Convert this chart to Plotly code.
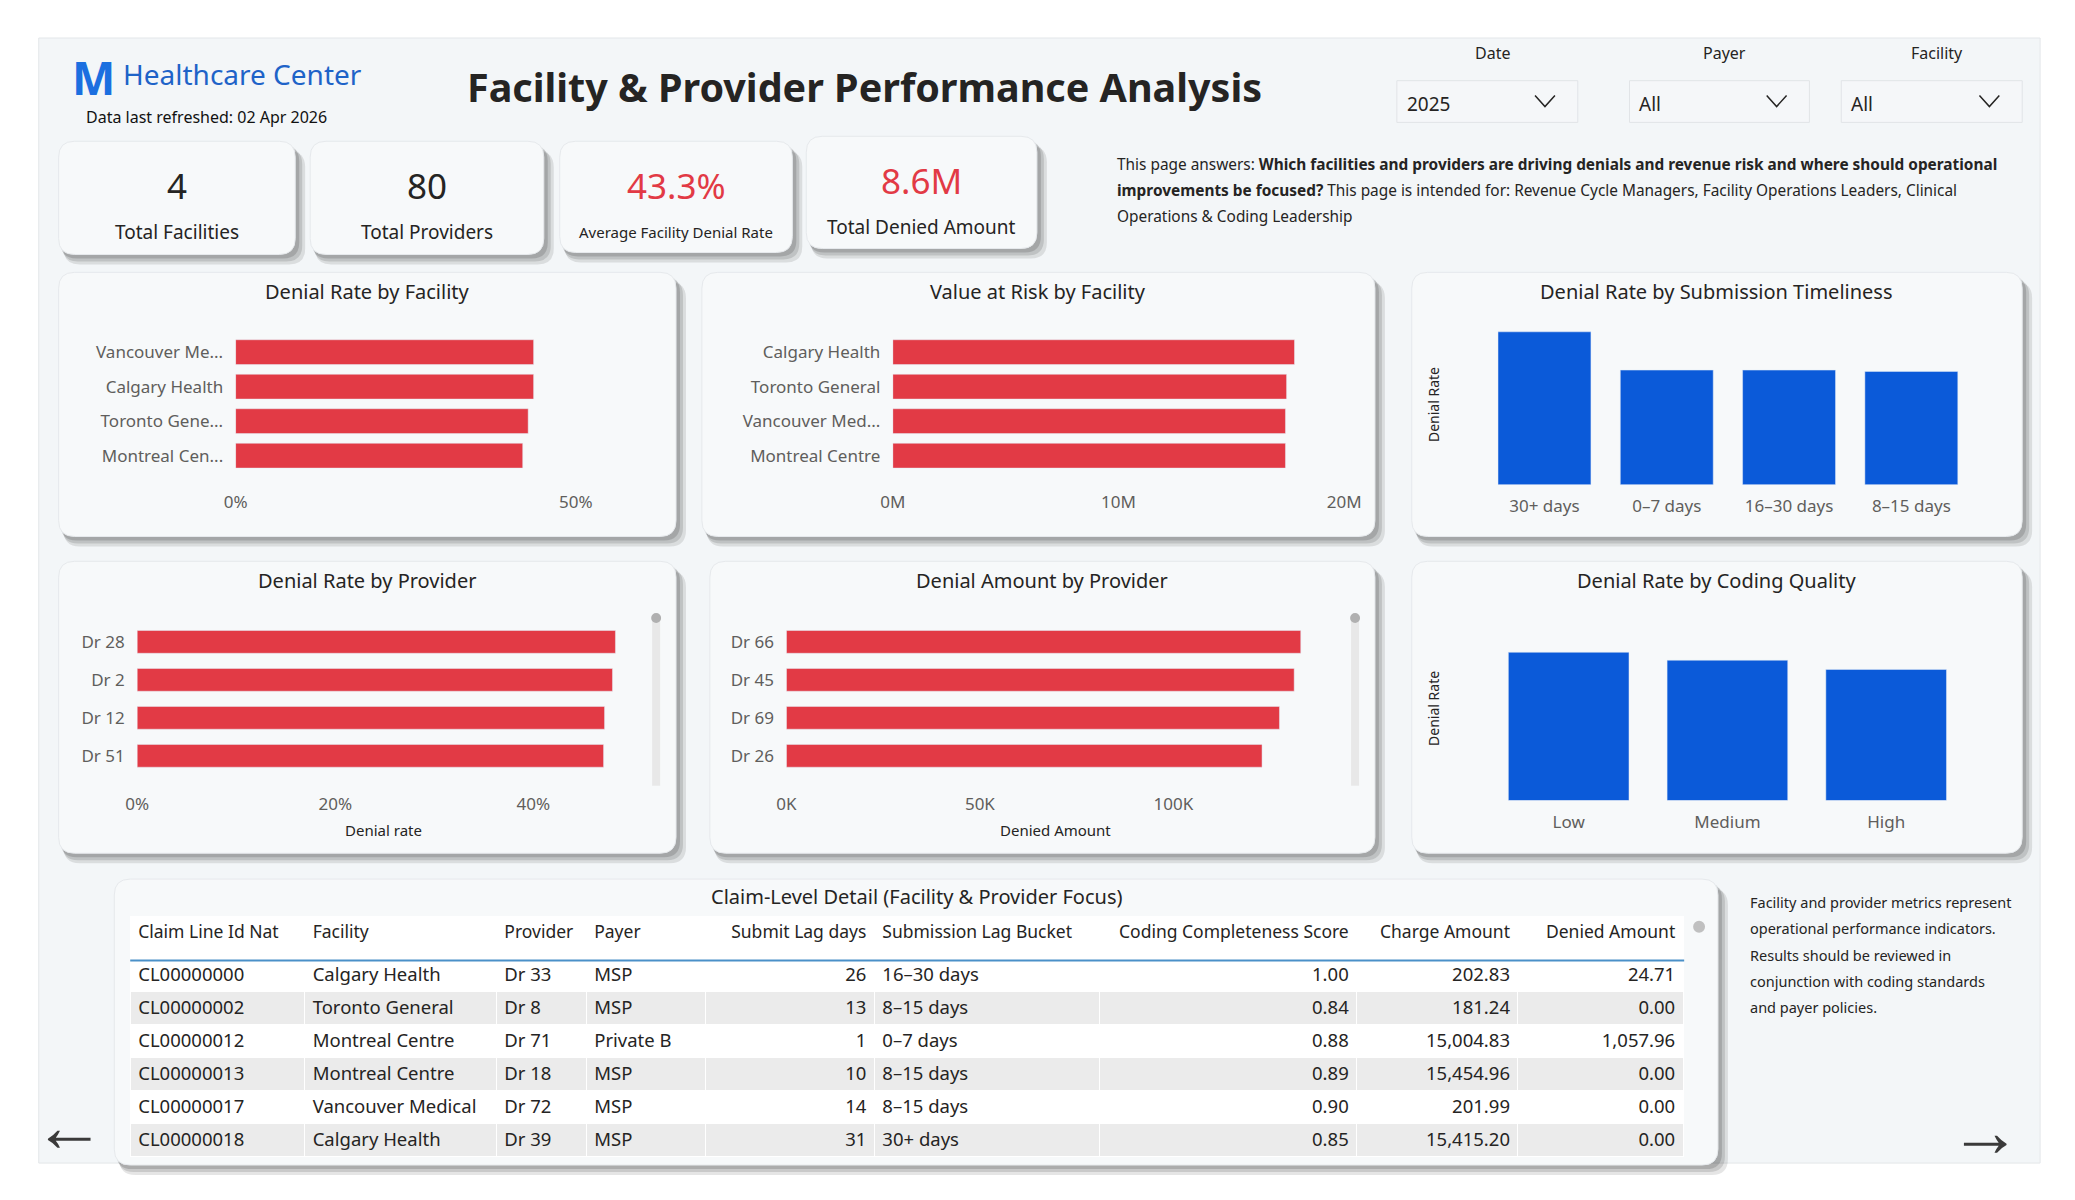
import plotly.graph_objects as go

W, H = 2075, 1200
OX, OY = -19, -7  # page offset compensation
SX, SY = 1.0088, 0.993
RED = "#e23a45"
BLUE = "#0b5ad9"
GREY = "#605e5c"
FONT = "Noto Sans"

# ---- data ----
fac_rate_names = ["Vancouver Me...", "Calgary Health", "Toronto Gene...", "Montreal Cen..."]
fac_rate_vals = [0.438, 0.438, 0.430, 0.422]

var_names = ["Calgary Health", "Toronto General", "Vancouver Med...", "Montreal Centre"]
var_vals = [17.8e6, 17.45e6, 17.4e6, 17.4e6]

lag_buckets = ["30+ days", "0–7 days", "16–30 days", "8–15 days"]
lag_rates = [0.560, 0.420, 0.420, 0.415]

prov_rate_names = ["Dr 28", "Dr 2", "Dr 12", "Dr 51"]
prov_rate_vals = [0.483, 0.480, 0.472, 0.471]

prov_amt_names = ["Dr 66", "Dr 45", "Dr 69", "Dr 26"]
prov_amt_vals = [132900, 131200, 127400, 122900]

coding_levels = ["Low", "Medium", "High"]
coding_rates = [0.450, 0.426, 0.398]

kpi_values = ["4", "80", "43.3%", "8.6M"]
kpi_labels = ["Total Facilities", "Total Providers", "Average Facility Denial Rate", "Total Denied Amount"]

tbl_headers = ["Claim Line Id Nat", "Facility", "Provider", "Payer", "Submit Lag days",
               "Submission Lag Bucket", "Coding Completeness Score", "Charge Amount", "Denied Amount"]
tbl_claim = ["CL00000000", "CL00000002", "CL00000012", "CL00000013", "CL00000017", "CL00000018"]
tbl_facility = ["Calgary Health", "Toronto General", "Montreal Centre", "Montreal Centre", "Vancouver Medical", "Calgary Health"]
tbl_provider = ["Dr 33", "Dr 8", "Dr 71", "Dr 18", "Dr 72", "Dr 39"]
tbl_payer = ["MSP", "MSP", "Private B", "MSP", "MSP", "MSP"]
tbl_lag = [26, 13, 1, 10, 14, 31]
tbl_bucket = ["16–30 days", "8–15 days", "0–7 days", "8–15 days", "8–15 days", "30+ days"]
tbl_score = ["1.00", "0.84", "0.88", "0.89", "0.90", "0.85"]
tbl_charge = ["202.83", "181.24", "15,004.83", "15,454.96", "201.99", "15,415.20"]
tbl_denied = ["24.71", "0.00", "1,057.96", "0.00", "0.00", "0.00"]


def X(v):
    return (37 + (v - 37) * SX + OX) / W


def Y(v):
    return 1 - (37 + (v - 37) * SY + OY) / H


def dx(a, b):
    return [X(a), X(b)]


def dy(top, bottom):
    return [Y(bottom), Y(top)]


def rrect(x0, y0, x1, y1, r=14):
    return (f"M {X(x0+r)},{Y(y0)} L {X(x1-r)},{Y(y0)} Q {X(x1)},{Y(y0)} {X(x1)},{Y(y0+r)} "
            f"L {X(x1)},{Y(y1-r)} Q {X(x1)},{Y(y1)} {X(x1-r)},{Y(y1)} L {X(x0+r)},{Y(y1)} "
            f"Q {X(x0)},{Y(y1)} {X(x0)},{Y(y1-r)} L {X(x0)},{Y(y0+r)} Q {X(x0)},{Y(y0)} {X(x0+r)},{Y(y0)} Z")


shapes = []
annotations = []


def card(x0, y0, x1, y1, r=14):
    for k, op in [(10, 0.10), (7, 0.12), (4, 0.14)]:
        shapes.append(dict(type="path", xref="paper", yref="paper", layer="below",
                           path=rrect(x0 + k / 2, y0 + k, x1 + k, y1 + k, r),
                           fillcolor=f"rgba(0,0,0,{op})", line=dict(width=0)))
    shapes.append(dict(type="path", xref="paper", yref="paper", layer="below",
                       path=rrect(x0, y0, x1, y1, r), fillcolor="#f7f9fa",
                       line=dict(color="#e6e9ec", width=1)))


def text(x, y, s, size=18, color="#252423", xanchor="center", bold=False, angle=0):
    if bold:
        s = f"<b>{s}</b>"
    annotations.append(dict(x=X(x), y=Y(y), xref="paper", yref="paper", text=s,
                            showarrow=False, xanchor=xanchor, yanchor="middle", textangle=angle,
                            font=dict(size=size, color=color, family=FONT)))


def rect(x0, y0, x1, y1, fill, line=None, layer="below"):
    shapes.append(dict(type="rect", xref="paper", yref="paper", layer=layer,
                       x0=X(x0), x1=X(x1), y0=Y(y1), y1=Y(y0), fillcolor=fill,
                       line=line or dict(width=0)))


# page background
rect(37, 37, 2050, 1170, "#f3f6f8", dict(color="#e3e6e9", width=1))

# header
text(68, 76, "M", 46, "#1b6fe0", "left", bold=True)
text(120, 73, "Healthcare Center", 28, "#1e63c8", "left")
text(83, 117, "Data last refreshed: 02 Apr 2026", 16, "#111", "left")
text(868, 86, "Facility & Provider Performance Analysis", 39.5, "#252423", bold=True)

# slicers
for lab, val, x0, x1 in [("Date", "2025", 1403, 1585), ("Payer", "All", 1637, 1818), ("Facility", "All", 1850, 2032)]:
    text((x0 + x1) / 2 + 5, 52, lab, 16, "#252423")
    rect(x0, 80, x1, 122, "#f5f7f9", dict(color="#e1e4e7", width=1), "above")
    text(x0 + 8, 103, val, 19, "#252423", "left")
    cx = x1 - 33
    shapes.append(dict(type="path", xref="paper", yref="paper",
                       path=f"M {X(cx-10)},{Y(95)} L {X(cx)},{Y(106)} L {X(cx+10)},{Y(95)}",
                       line=dict(color="#252423", width=1.5)))

# description
desc_lines = ["This page answers: <b>Which facilities and providers are driving denials and revenue risk and where should operational</b>",
              "<b>improvements be focused?</b> This page is intended for: Revenue Cycle Managers, Facility Operations Leaders, Clinical",
              "Operations &amp; Coding Leadership"]
for i, ln in enumerate(desc_lines):
    text(1120, 164 + i * 26.5, ln, 15.4, "#252423", "left")

# KPI cards
kpi_boxes = [(57, 141, 295, 255), (310, 141, 545, 255), (561, 141, 795, 253), (809, 136, 1041, 249)]
for (x0, y0, x1, y1), v, lab in zip(kpi_boxes, kpi_values, kpi_labels):
    card(x0, y0, x1, y1, 16)
    red = v.endswith("%") or v.endswith("M")
    text((x0 + x1) / 2, y0 + 45, v, 35, RED if red else "#252423")
    text((x0 + x1) / 2, y0 + 91, lab, 15 if len(lab) > 22 else 19, "#252423")

# chart cards + titles
chart_cards = [(57, 273, 678, 539, "Denial Rate by Facility"),
               (704, 273, 1381, 539, "Value at Risk by Facility"),
               (1418, 273, 2032, 539, "Denial Rate by Submission Timeliness"),
               (57, 564, 678, 858, "Denial Rate by Provider"),
               (712, 564, 1381, 858, "Denial Amount by Provider"),
               (1418, 564, 2032, 858, "Denial Rate by Coding Quality")]
for x0, y0, x1, y1, t in chart_cards:
    card(x0, y0, x1, y1, 16)
    text((x0 + x1) / 2, y0 + 19, t, 20, "#252423")

# table card
card(113, 884, 1726, 1172, 16)
text(920, 902, "Claim-Level Detail (Facility &amp; Provider Focus)", 20, "#252423")

# axis titles
text(1440, 406, "Denial Rate", 14, "#252423", angle=-90)
text(1440, 712, "Denial Rate", 14, "#252423", angle=-90)
text(384, 835, "Denial rate", 15, "#252423")
text(1060, 835, "Denied Amount", 15, "#252423")

# scrollbars
for sx in (658, 1361):
    shapes.append(dict(type="line", xref="paper", yref="paper", x0=X(sx), x1=X(sx),
                       y0=Y(790), y1=Y(622), line=dict(color="#e8e8e8", width=8)))
    shapes.append(dict(type="circle", xref="paper", yref="paper", x0=X(sx - 5), x1=X(sx + 5),
                       y0=Y(626), y1=Y(616), fillcolor="#b0b0b0", line=dict(width=0)))
shapes.append(dict(type="circle", xref="paper", yref="paper", x0=X(1701), x1=X(1713),
                   y0=Y(938), y1=Y(926), fillcolor="#c0c0c0", line=dict(width=0)))

# side note
note_lines = ["Facility and provider metrics represent", "operational performance indicators.",
              "Results should be reviewed in", "conjunction with coding standards", "and payer policies."]
for i, ln in enumerate(note_lines):
    text(1756, 907 + i * 26.5, ln, 14.5, "#252423", "left")

# nav arrows
text(67, 1130, "←", 72, "#3a3a3a")
text(1995, 1135, "→", 72, "#3a3a3a")

fig = go.Figure()

tickfont = dict(size=17, color=GREY, family=FONT)


def hbar(n, names, vals, xd, yd, rng, tv, tt, width=0.72):
    fig.add_trace(go.Bar(x=vals, y=names, orientation="h", marker_color=RED, width=width,
                         xaxis=f"x{n}", yaxis=f"y{n}", showlegend=False))
    fig.layout[f"xaxis{n}"] = dict(domain=dx(*xd), range=rng, tickvals=tv, ticktext=tt, showgrid=False,
                                   zeroline=False, tickfont=tickfont, ticks="outside", ticklen=14,
                                   tickcolor="rgba(0,0,0,0)", anchor=f"y{n}", fixedrange=True)
    fig.layout[f"yaxis{n}"] = dict(domain=dy(*yd), autorange="reversed", tickfont=tickfont, showgrid=False,
                                   ticks="outside", ticklen=8, tickcolor="rgba(0,0,0,0)", anchor=f"x{n}",
                                   fixedrange=True)


def vbar(n, names, vals, xd, yd, rng):
    fig.add_trace(go.Bar(x=names, y=vals, marker_color=BLUE, xaxis=f"x{n}", yaxis=f"y{n}", showlegend=False))
    fig.layout[f"xaxis{n}"] = dict(domain=dx(*xd), tickfont=tickfont, showgrid=False, ticks="outside",
                                   ticklen=6, tickcolor="rgba(0,0,0,0)", anchor=f"y{n}", fixedrange=True)
    fig.layout[f"yaxis{n}"] = dict(domain=dy(*yd), range=rng, showticklabels=False, showgrid=False,
                                   zeroline=False, anchor=f"x{n}", fixedrange=True)


hbar(1, fac_rate_names, fac_rate_vals, (235, 660), (336, 475), [0, 0.621], [0, 0.5], ["0%", "50%"])
hbar(2, var_names, var_vals, (896, 1350), (336, 475), [0, 20e6], [0, 10e6, 20e6], ["0M", "10M", "20M"])
vbar(3, lag_buckets, lag_rates, (1490, 1982), (326, 487), [0, 0.585])
hbar(4, prov_rate_names, prov_rate_vals, (136, 634), (626, 779), [0, 0.5], [0, 0.2, 0.4], ["0%", "20%", "40%"], 0.6)
hbar(5, prov_amt_names, prov_amt_vals, (789, 1334), (626, 779), [0, 140000], [0, 50000, 100000], ["0K", "50K", "100K"], 0.6)
vbar(6, coding_levels, coding_rates, (1496, 1975), (645, 805), [0, 0.482])

# table
align = ["left", "left", "left", "left", "right", "left", "right", "right", "right"]
row_fill = [["#ffffff" if i % 2 == 0 else "#ebebeb" for i in range(len(tbl_claim))]]
fig.add_trace(go.Table(
    domain=dict(x=dx(129, 1692), y=dy(922, 1166)),
    columnwidth=[132, 145, 68, 90, 128, 170, 195, 122, 125],
    header=dict(values=tbl_headers, fill_color="#ffffff", line_color="#ffffff", height=42,
                align=align, font=dict(size=17.5, color="#252423", family=FONT)),
    cells=dict(values=[tbl_claim, tbl_facility, tbl_provider, tbl_payer, tbl_lag, tbl_bucket,
                       tbl_score, tbl_charge, tbl_denied],
               fill_color=row_fill, line_color="#ffffff", height=33,
               align=align, font=dict(size=18.5, color="#252423", family=FONT))))
shapes.append(dict(type="line", xref="paper", yref="paper", x0=X(129), x1=X(1692),
                   y0=Y(966), y1=Y(966), line=dict(color="#4a90c8", width=2), layer="above"))

fig.update_layout(width=W, height=H, margin=dict(l=0, r=0, t=0, b=0), paper_bgcolor="#ffffff",
                  plot_bgcolor="rgba(0,0,0,0)", shapes=shapes, annotations=annotations,
                  bargap=0.24, font=dict(family=FONT))

fig.write_html("out.html")
